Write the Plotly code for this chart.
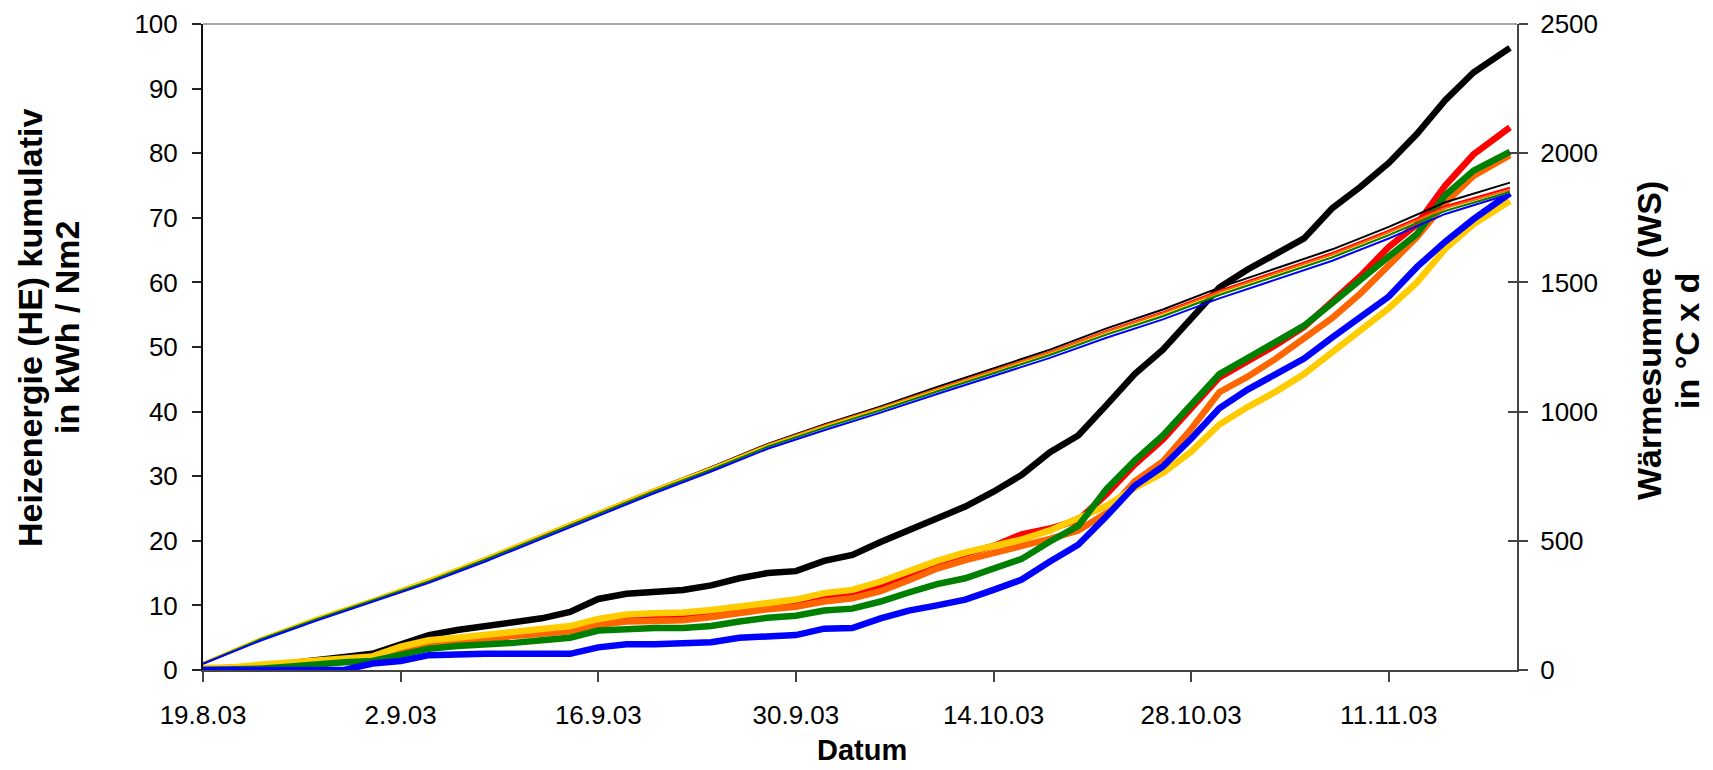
import pandas as pd
import plotly.graph_objects as go

# ---------------- data ----------------
# heating-energy series (left axis), sampled every 2 days from 19.8.03, last point 19.11.03 afternoon
he_dates = list(pd.date_range("2003-08-19", periods=46, freq="2D").strftime("%Y-%m-%d")) + ["2003-11-19 14:00"]

he_black = [0, 0.2, 0.5, 1.0, 1.6, 2.0, 2.5, 4.0, 5.4, 6.2,
            6.8, 7.3, 8.0, 9.0, 11.0, 11.8, 12.1, 12.4, 13.1, 14.2,
            15.0, 15.3, 16.9, 17.8, 19.8, 21.6, 23.4, 25.3, 27.6, 30.2,
            33.7, 36.3, 41.0, 45.8, 49.6, 54.3, 59.2, 62.0, 64.3, 66.8,
            71.5, 74.8, 78.5, 83.0, 88.2, 92.5, 96.3]
he_red = [0.2, 0.3, 0.5, 0.9, 1.3, 1.6, 2.0, 3.2, 4.2, 4.8,
          5.3, 5.7, 6.0, 6.4, 7.6, 8.0, 8.1, 8.2, 8.7, 9.4,
          9.9, 10.3, 11.2, 11.8, 13.1, 14.8, 16.6, 18.0, 19.2, 21.0,
          21.9, 23.2, 27.2, 31.8, 35.7, 40.5, 45.3, 47.8, 50.3, 53.1,
          57.0, 61.0, 65.5, 69.0, 75.0, 79.8, 84.0]
he_orange = [0.1, 0.2, 0.4, 0.7, 1.1, 1.4, 1.8, 3.2, 4.0, 4.5,
             4.9, 5.3, 5.7, 6.0, 7.0, 7.5, 7.6, 7.7, 8.2, 8.9,
             9.4, 9.8, 10.6, 11.1, 12.2, 13.9, 15.7, 17.0, 18.0, 19.2,
             20.3, 21.6, 24.3, 29.2, 32.3, 37.3, 43.0, 45.4, 48.2, 51.2,
             54.5, 58.3, 62.8, 67.0, 72.3, 76.5, 79.7]
he_yellow = [0.3, 0.4, 0.8, 1.1, 1.5, 1.6, 2.1, 3.6, 4.6, 5.0,
             5.5, 5.9, 6.3, 6.8, 7.9, 8.6, 8.8, 8.9, 9.3, 9.8,
             10.5, 10.9, 11.9, 12.4, 13.7, 15.3, 16.9, 18.2, 19.1, 20.2,
             21.6, 23.5, 25.4, 28.2, 30.5, 33.8, 38.0, 40.7, 43.1, 45.8,
             49.2, 52.5, 56.0, 60.0, 65.2, 69.0, 72.6]
he_green = [0, 0, 0.2, 0.5, 0.9, 1.2, 1.4, 2.4, 3.3, 3.7,
            3.9, 4.2, 4.6, 5.0, 6.1, 6.4, 6.5, 6.5, 6.8, 7.5,
            8.1, 8.4, 9.2, 9.5, 10.6, 12.0, 13.3, 14.2, 15.7, 17.2,
            19.9, 22.3, 28.0, 32.4, 36.3, 41.0, 45.8, 48.3, 50.8, 53.3,
            56.8, 60.5, 64.0, 67.5, 73.5, 77.3, 80.2]
he_blue = [0, 0, 0, 0, 0, 0, 1.0, 1.4, 2.3, 2.5,
           2.5, 2.5, 2.5, 2.5, 3.5, 4.0, 4.0, 4.1, 4.3, 5.0,
           5.3, 5.4, 6.4, 6.5, 8.0, 9.2, 10.0, 10.9, 12.4, 14.0,
           16.8, 19.4, 23.8, 28.5, 31.5, 35.8, 40.5, 43.4, 45.8, 48.2,
           51.5, 54.7, 57.8, 62.4, 66.3, 69.8, 73.8]

# heat-sum series (right axis), every 4 days
ws_dates = list(pd.date_range("2003-08-19", periods=23, freq="4D").strftime("%Y-%m-%d")) + ["2003-11-19 14:00"]
ws_black = [25, 115, 195, 268, 345, 430, 520, 610, 700, 785, 875, 950, 1020, 1095, 1168, 1240, 1322, 1395, 1480, 1555, 1628, 1715, 1810, 1886]
ws_red = [25, 116, 196, 268, 344, 428, 518, 607, 697, 781, 870, 944, 1013, 1088, 1160, 1231, 1312, 1385, 1468, 1542, 1614, 1700, 1795, 1866]
ws_orange = [27, 120, 200, 273, 350, 434, 523, 612, 700, 783, 872, 946, 1015, 1088, 1158, 1229, 1309, 1381, 1463, 1537, 1608, 1694, 1788, 1858]
ws_yellow = [28, 121, 202, 274, 351, 435, 524, 613, 701, 782, 869, 942, 1010, 1082, 1152, 1222, 1300, 1372, 1454, 1527, 1598, 1683, 1777, 1848]
ws_green = [25, 117, 196, 268, 343, 427, 515, 603, 692, 775, 864, 937, 1005, 1078, 1149, 1219, 1298, 1369, 1451, 1525, 1597, 1683, 1777, 1850]
ws_blue = [24, 112, 190, 262, 337, 420, 508, 596, 685, 768, 856, 928, 996, 1068, 1138, 1208, 1286, 1357, 1438, 1512, 1584, 1670, 1765, 1842]

x_tick_vals = ["2003-08-19", "2003-09-02", "2003-09-16", "2003-09-30", "2003-10-14", "2003-10-28", "2003-11-11"]
x_tick_text = ["19.8.03", "2.9.03", "16.9.03", "30.9.03", "14.10.03", "28.10.03", "11.11.03"]

colors = {"black": "#000000", "red": "#FF0000", "orange": "#FF6600",
          "yellow": "#FFCC00", "green": "#008000", "blue": "#0000FF"}

# ---------------- figure ----------------
fig = go.Figure()
he = [("black", he_black), ("red", he_red), ("orange", he_orange),
      ("yellow", he_yellow), ("green", he_green), ("blue", he_blue)]
for name, vals in he:
    fig.add_trace(go.Scatter(x=he_dates, y=vals, mode="lines", yaxis="y",
                             line=dict(color=colors[name], width=6.5),
                             showlegend=False, hoverinfo="skip"))
ws = [("black", ws_black), ("red", ws_red), ("orange", ws_orange),
      ("yellow", ws_yellow), ("green", ws_green), ("blue", ws_blue)]
for name, vals in ws:
    fig.add_trace(go.Scatter(x=ws_dates, y=vals, mode="lines", yaxis="y2",
                             line=dict(color=colors[name], width=2),
                             showlegend=False, hoverinfo="skip"))

tickfont = dict(family="Liberation Sans, Arial, sans-serif", size=26, color="black")
titlefont = dict(family="Liberation Sans, Arial, sans-serif", size=34, color="black", weight="bold")

fig.update_layout(
    width=1713, height=770,
    margin=dict(l=203, r=196, t=24, b=100, autoexpand=False),
    paper_bgcolor="white", plot_bgcolor="white",
    xaxis=dict(type="date", range=["2003-08-19", "2003-11-20 02:00"],
               tickvals=x_tick_vals, ticktext=x_tick_text,
               ticks="outside", ticklen=10, tickwidth=1.5, tickcolor="#444",
               showline=True, linecolor="#444", linewidth=2, automargin=False,
               ticklabelstandoff=11,
               showgrid=False, zeroline=False, tickfont=tickfont),
    yaxis=dict(range=[0, 100], dtick=10, ticks="outside", ticklen=9, tickwidth=1.5,
               tickcolor="#222", showline=True, linecolor="#111", linewidth=2,
               automargin=False, ticklabelstandoff=9,
               showgrid=False, zeroline=False, tickfont=tickfont),
    yaxis2=dict(range=[0, 2500], dtick=500, overlaying="y", side="right",
                ticks="outside", ticklen=9, tickwidth=1.5, tickcolor="#444",
                showline=True, linecolor="#444", linewidth=2,
                automargin=False, ticklabelstandoff=7,
                showgrid=False, zeroline=False, tickfont=tickfont),
    yaxis3=dict(range=[0, 2500], dtick=500, overlaying="y", side="right",
                ticks="inside", ticklen=9, tickwidth=1.5, tickcolor="#444",
                automargin=False,
                showticklabels=False, showline=False, showgrid=False, zeroline=False),
)
# invisible trace to activate the inner tick axis on the right
fig.add_trace(go.Scatter(x=[he_dates[0]], y=[0], yaxis="y3", mode="markers",
                         marker=dict(opacity=0), showlegend=False, hoverinfo="skip"))

fig.add_shape(type="line", xref="paper", yref="paper", x0=0, x1=1, y0=1, y1=1,
              line=dict(color="#888", width=1.5))

W = 1713 - 203 - 196
H = 770 - 24 - 100
def px(xp):
    return (xp - 203) / W
def py(yp):
    return (670 - yp) / H

ann = [
    dict(text="Heizenergie (HE) kumulativ", x=px(30), y=py(328), textangle=-90),
    dict(text="in kWh / Nm2", x=px(67), y=py(328), textangle=-90),
    dict(text="Wärmesumme (WS)", x=px(1649), y=py(341), textangle=-90),
    dict(text="in °C x d", x=px(1687), y=py(341), textangle=-90),
    dict(text="Datum", x=px(862), y=py(750), textangle=0,
         font=dict(family="Liberation Sans, Arial, sans-serif",
                   size=29, color="black", weight="bold")),
]
for a in ann:
    fig.add_annotation(xref="paper", yref="paper", showarrow=False,
                       xanchor="center", yanchor="middle",
                       font=a.pop("font", titlefont), **a)

fig.write_html("out.html", config={"displayModeBar": False},
               post_script="document.body.style.margin='0px';document.body.style.overflow='hidden';")
